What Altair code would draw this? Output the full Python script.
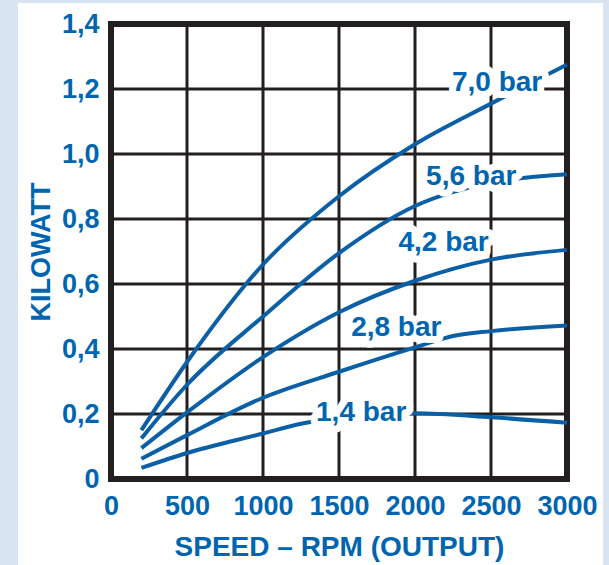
import altair as alt
import pandas as pd

# Output power (kW) against output shaft speed (rpm), one curve per supply pressure
rpm_70 = [200, 500, 1000, 1500, 2000, 2500, 3000]
kw_70 = [0.15, 0.36, 0.66, 0.87, 1.03, 1.155, 1.275]

rpm_56 = [200, 500, 1000, 1500, 2000, 2500, 3000]
kw_56 = [0.125, 0.29, 0.50, 0.695, 0.84, 0.912, 0.938]

rpm_42 = [200, 500, 1000, 1500, 2000, 2500, 3000]
kw_42 = [0.095, 0.205, 0.375, 0.513, 0.61, 0.675, 0.705]

rpm_28 = [200, 500, 1000, 1500, 2000, 2250, 2500, 3000]
kw_28 = [0.062, 0.135, 0.25, 0.33, 0.405, 0.44, 0.455, 0.472]

rpm_14 = [200, 500, 1000, 1250, 1500, 2000, 2500, 3000]
kw_14 = [0.034, 0.08, 0.14, 0.17, 0.188, 0.202, 0.19, 0.173]

pressures = ["7,0 bar", "5,6 bar", "4,2 bar", "2,8 bar", "1,4 bar"]
label_rpm = [2540, 2370, 2188, 1877, 1646]
label_kw = [1.22, 0.93, 0.725, 0.464, 0.202]

x_ticks = [0, 500, 1000, 1500, 2000, 2500, 3000]
y_ticks = [0, 0.2, 0.4, 0.6, 0.8, 1.0, 1.2, 1.4]

FONT = "Liberation Sans"
BLUE_TEXT = "#0065b0"
BLUE_LINE = "#0b5fa6"
INK = "#231f20"
PAGE_BG = "#d8e4ef"

series = [
    (pressures[0], rpm_70, kw_70),
    (pressures[1], rpm_56, kw_56),
    (pressures[2], rpm_42, kw_42),
    (pressures[3], rpm_28, kw_28),
    (pressures[4], rpm_14, kw_14),
]
curves = pd.DataFrame(
    [{"pressure": p, "rpm": r, "kw": k} for p, rs, ks in series for r, k in zip(rs, ks)]
)
labels = pd.DataFrame({"pressure": pressures, "rpm": label_rpm, "kw": label_kw})
vgrid = pd.DataFrame({"rpm": x_ticks[1:-1]})
hgrid = pd.DataFrame({"kw": y_ticks[1:-1]})
frame = pd.DataFrame(
    {"rpm": [x_ticks[0]], "rpm_end": [x_ticks[-1]], "kw": [y_ticks[0]], "kw_end": [y_ticks[-1]]}
)

x_scale = alt.Scale(domain=[x_ticks[0], x_ticks[-1]], nice=False, zero=False)
y_scale = alt.Scale(domain=[y_ticks[0], y_ticks[-1]], nice=False, zero=False)

axis_common = dict(
    grid=False,
    domain=False,
    ticks=False,
    tickSize=0,
    labelFont=FONT,
    labelFontSize=27,
    labelFontWeight="bold",
    labelColor=BLUE_TEXT,
    labelFlush=False,
    labelOverlap=False,
    titleFont=FONT,
    titleFontWeight="bold",
    titleColor=BLUE_TEXT,
    zindex=1,
)
x_axis = alt.Axis(
    values=x_ticks, format="d", title="SPEED – RPM (OUTPUT)",
    labelPadding=14, titlePadding=14, titleFontSize=28, **axis_common,
)
y_axis = alt.Axis(
    values=y_ticks,
    title="KILOWATT",
    labelPadding=12,
    titlePadding=6,
    titleFontSize=27,
    labelExpr="datum.value == 0 ? '0' : replace(format(datum.value, '.1f'), '.', ',')",
    **axis_common,
)


def X(field="rpm"):
    return alt.X(field, type="quantitative", scale=x_scale, axis=x_axis)


def Y(field="kw"):
    return alt.Y(field, type="quantitative", scale=y_scale, axis=y_axis)


# white sheet behind the chart
panel = alt.Chart(pd.DataFrame({"sheet": [0]})).mark_rect(fill="white").encode(
    x=alt.value(-93), x2=alt.value(492), y=alt.value(-21), y2=alt.value(541)
)

vlines = alt.Chart(vgrid).mark_rule(color=INK, strokeWidth=3).encode(x=X())
hlines = alt.Chart(hgrid).mark_rule(color=INK, strokeWidth=3).encode(y=Y())

border = alt.Chart(frame).mark_rect(fillOpacity=0, stroke=INK, strokeWidth=6).encode(
    x=X(), x2="rpm_end", y=Y(), y2="kw_end"
)

lines = alt.Chart(curves).mark_line(
    interpolate="monotone", color=BLUE_LINE, strokeWidth=4
).encode(x=X(), y=Y(), detail="pressure:N")

halo = alt.Chart(labels).mark_text(
    font=FONT, fontSize=28, fontWeight="bold", fill="white", stroke="white",
    strokeWidth=14, strokeJoin="round", baseline="middle", align="center",
).encode(x=X(), y=Y(), text="pressure:N")

text = alt.Chart(labels).mark_text(
    font=FONT, fontSize=28, fontWeight="bold", fill=BLUE_TEXT,
    baseline="middle", align="center",
).encode(x=X(), y=Y(), text="pressure:N")

chart = (
    alt.layer(panel, vlines, hlines, border, lines, halo, text)
    .properties(
        width=456,
        height=455,
        padding={"left": 111, "top": 24, "right": 42, "bottom": 86},
        autosize=alt.AutoSizeParams(type="none"),
        background=PAGE_BG,
    )
    .configure_view(strokeWidth=0)
)

chart.save("out.html", embed_options={"renderer": "svg", "actions": False})
